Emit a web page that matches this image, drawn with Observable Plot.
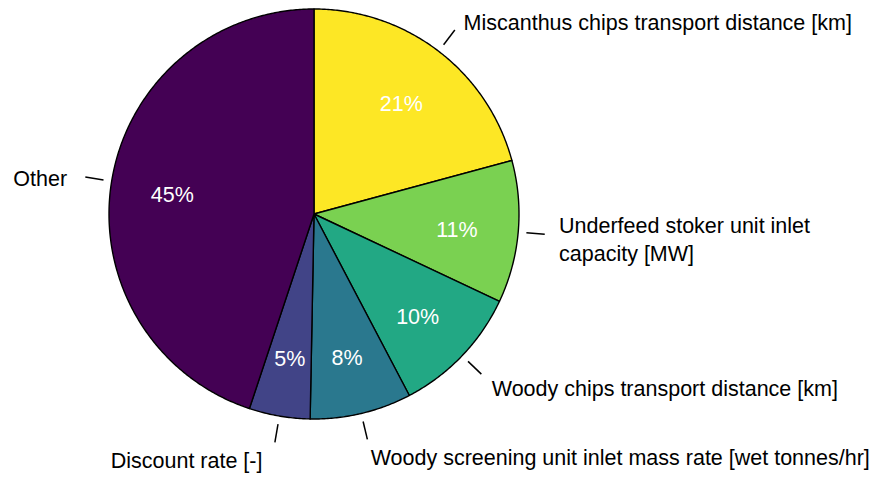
<!DOCTYPE html>
<html>
<head>
<meta charset="utf-8">
<script src="https://cdn.jsdelivr.net/npm/d3@7"></script>
<script src="https://cdn.jsdelivr.net/npm/@observablehq/plot@0.6"></script>
<style>
  html, body { margin: 0; padding: 0; background: #ffffff; }
  #chart { width: 881px; height: 477px; }
</style>
</head>
<body>
<div id="chart"></div>
<script>
// ---- data ----
const categories = [
  "Miscanthus chips transport distance [km]",
  "Underfeed stoker unit inlet\ncapacity [MW]",
  "Woody chips transport distance [km]",
  "Woody screening unit inlet mass rate [wet tonnes/hr]",
  "Discount rate [-]",
  "Other"
];
const shares = [20.8, 11.2, 10.3, 8.0, 4.8, 44.9];
const sliceColors = ["#fde725", "#7ad151", "#22a884", "#2a788e", "#414487", "#440154"];

// ---- layout constants ----
const W = 881, H = 477;
const CX = 313.5, CY = 213.5, R = 205;   // pixel centre and radius
const PCT_R = 0.7, LEAD_R1 = 1.04, LEAD_R2 = 1.13, LABEL_R = 1.2;
const FONT = "Liberation Sans, Arial, Helvetica, sans-serif";
const FS = 21.5;
const labelNudgeX = [0, 0, 0, 0, -10, -4];

const total = d3.sum(shares);
let acc = 0;
const slices = shares.map((v, i) => {
  const a0 = acc / total * 2 * Math.PI;
  acc += v;
  const a1 = acc / total * 2 * Math.PI;
  return {i, name: categories[i], value: v, a0, a1, mid: (a0 + a1) / 2, color: sliceColors[i]};
});
const pol = (r, a) => ({x: r * Math.sin(a), y: r * Math.cos(a)});

const marks = [];
for (const s of slices) {
  const n = Math.max(8, Math.ceil((s.a1 - s.a0) / (2 * Math.PI) * 720));
  const pts = [{x: 0, y: 0}];
  for (let k = 0; k <= n; k++) pts.push(pol(1, s.a0 + (s.a1 - s.a0) * k / n));
  pts.push({x: 0, y: 0});
  marks.push(Plot.line(pts, {x: "x", y: "y", fill: s.color, stroke: "black", strokeWidth: 1.4, strokeLinejoin: "round"}));
}

const pctData = slices.map(s => ({...pol(PCT_R, s.mid), t: Math.round(s.value / total * 100) + "%"}));
marks.push(Plot.text(pctData, {x: "x", y: "y", text: "t", fill: "white", fontSize: FS, fontFamily: FONT, dy: 4}));

const leaders = slices.map(s => {
  const p1 = pol(LEAD_R1, s.mid), p2 = pol(LEAD_R2, s.mid);
  return {x1: p1.x, y1: p1.y, x2: p2.x, y2: p2.y};
});
marks.push(Plot.link(leaders, {x1: "x1", y1: "y1", x2: "x2", y2: "y2", stroke: "black", strokeWidth: 1.5}));

const labels = slices.map(s => {
  const p = pol(LABEL_R, s.mid);
  return {x: p.x + labelNudgeX[s.i] / R, y: p.y, name: s.name};
});
marks.push(Plot.text(labels.filter(d => d.x >= 0), {x: "x", y: "y", text: "name", textAnchor: "start", fill: "black", fontSize: FS, fontFamily: FONT, lineHeight: 1.3, dy: 2.5}));
marks.push(Plot.text(labels.filter(d => d.x < 0), {x: "x", y: "y", text: "name", textAnchor: "end", fill: "black", fontSize: FS, fontFamily: FONT, lineHeight: 1.3, dy: 2.5}));

const chart = Plot.plot({
  width: W,
  height: H,
  margin: 0,
  style: {background: "white", overflow: "visible"},
  x: {domain: [-CX / R, (W - CX) / R], range: [0, W], axis: null},
  y: {domain: [-(H - CY) / R, CY / R], range: [H, 0], axis: null},
  marks
});
document.getElementById("chart").appendChild(chart);
</script>
</body>
</html>
